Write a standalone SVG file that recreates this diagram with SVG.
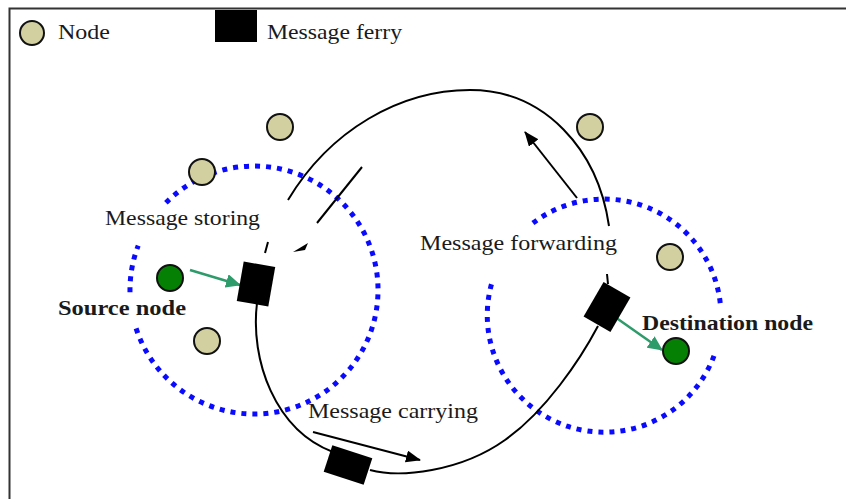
<svg xmlns="http://www.w3.org/2000/svg" width="846" height="499" viewBox="0 0 846 499">
<style>
.txt{font-family:"Liberation Serif","Times New Roman",serif;font-size:21px;fill:#1a1a1a}
.bold{font-weight:bold}
.node{fill:#d2cfa0;stroke:#111;stroke-width:2}
.src{fill:#058005;stroke:#111;stroke-width:2}
.ferry{fill:#000}
.range{fill:none;stroke:#0a0aff;stroke-width:5;stroke-dasharray:5 6}
.path{fill:none;stroke:#000;stroke-width:2}
.garrow{stroke:#2e9b6b;stroke-width:2.5;fill:none;marker-end:url(#gh)}
.barrow{stroke:#000;stroke-width:2;fill:none;marker-end:url(#bh)}
</style>
<defs>
<marker id="gh" markerUnits="userSpaceOnUse" markerWidth="16" markerHeight="14" refX="14" refY="7" orient="auto"><path d="M0,0 L15,7 L0,14 Z" fill="#2e9b6b"/></marker>
<marker id="bh" markerUnits="userSpaceOnUse" markerWidth="16" markerHeight="14" refX="14" refY="6" orient="auto"><path d="M0,0 L15,6 L0,12 Z" fill="#000"/></marker>
</defs>
<rect width="846" height="499" fill="#fff"/>
<path d="M9.5,499 V8.5 H846" fill="none" stroke="#333" stroke-width="2"/>

<g id="legend">
<circle class="node" cx="32" cy="33" r="12"/>
<text class="txt" x="58" y="39" textLength="52" lengthAdjust="spacingAndGlyphs">Node</text>
<rect class="ferry" x="215" y="10" width="42" height="32"/>
<text class="txt" x="267" y="39" textLength="135" lengthAdjust="spacingAndGlyphs">Message ferry</text>
</g>

<g id="ranges">
<path class="range" d="M165.9,202.8 A124,124 0 1 1 135.7,327.1"/>
<path class="range" d="M130,292.2 A124,124 0 0 1 138.2,245.6"/>
<path class="range" d="M532.9,223.1 A117,117 0 0 1 720.4,304.6"/>
<path class="range" d="M714,355.8 A117,117 0 0 1 492.2,281.6"/>
</g>

<g id="connectors">
<path class="path" d="M288,200 C330,130 400,90 470,90 C545,90 598,150 609,226"/>
<path class="path" d="M317,223 L362,167"/>
<path class="path" d="M265,253 L268,242"/>
<polygon points="293,252 308,243 305,250" fill="#000"/>
<path class="path" d="M257,303 C250,360 275,430 333,452"/>
<path class="path" d="M370,470 C400,478 460,472 505,440 C545,412 580,360 598,326"/>
<path class="path" d="M607,274 L608,284"/>
<path class="garrow" d="M190,270 L240,285"/>
<path class="garrow" d="M615,317 L662,350"/>
<path class="barrow" d="M313,432 L420,460"/>
<path class="barrow" d="M577,198 L525,132"/>
</g>

<g id="ferry-left"><rect class="ferry" x="240" y="264" width="32" height="40" transform="rotate(10 256 284)"/></g>
<g id="ferry-bottom"><rect class="ferry" x="327" y="451" width="42" height="28" transform="rotate(18 348 465)"/></g>
<g id="ferry-right"><rect class="ferry" x="591.5" y="287" width="31" height="40" transform="rotate(30 607 307)"/></g>

<g id="node1"><circle class="node" cx="280" cy="127" r="13"/></g>
<g id="node2"><circle class="node" cx="202" cy="172" r="13"/></g>
<g id="node3"><circle class="node" cx="207" cy="341" r="13"/></g>
<g id="node4"><circle class="node" cx="590" cy="127" r="13"/></g>
<g id="node5"><circle class="node" cx="670" cy="257" r="13"/></g>
<g id="source"><circle class="src" cx="170" cy="278" r="13"/></g>
<g id="destination"><circle class="src" cx="676" cy="351" r="13"/></g>

<g id="labels">
<text class="txt" x="105" y="225" textLength="155" lengthAdjust="spacingAndGlyphs">Message storing</text>
<text class="txt" x="420" y="250" textLength="197" lengthAdjust="spacingAndGlyphs">Message forwarding</text>
<text class="txt" x="308" y="418" textLength="170" lengthAdjust="spacingAndGlyphs">Message carrying</text>
<text class="txt bold" x="58" y="315" textLength="128" lengthAdjust="spacingAndGlyphs">Source node</text>
<text class="txt bold" x="642" y="330" textLength="171" lengthAdjust="spacingAndGlyphs">Destination node</text>
</g>
</svg>
